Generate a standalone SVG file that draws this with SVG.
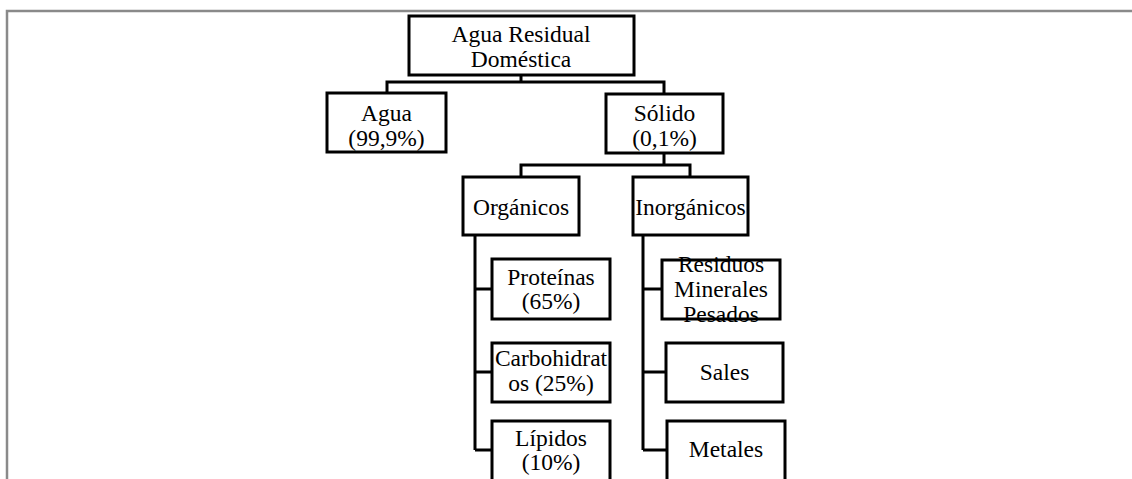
<svg xmlns="http://www.w3.org/2000/svg" width="1132" height="479" viewBox="0 0 1132 479">
<style>
.frame{fill:none;stroke:#8a8a8a;stroke-width:2.5}
.box{fill:#fff;stroke:#000;stroke-width:3}
.con{fill:none;stroke:#000;stroke-width:3}
.t{font-family:'Liberation Serif','Tinos','Times New Roman','DejaVu Serif',serif;font-size:23.5px;fill:#000;text-anchor:middle}
</style>
<rect width="1132" height="479" fill="#fff"/>
<path class="frame" d="M7,479 V11 H1132"/>
<g id="connectors">
<path class="con" d="M521,75 V82 M387,93 V82 H664 V93"/>
<path class="con" d="M664,153 V165 M521,177 V165 H690 V177"/>
<path class="con" d="M475,235 V450 M475,289 H492 M475,372 H492 M475,450 H492"/>
<path class="con" d="M643,235 V450 M643,289 H662 M643,372 H666 M643,450 H667"/>
</g>
<g id="root"><rect class="box" x="409" y="16" width="225" height="59"/><text class="t" x="521" y="42">Agua Residual</text><text class="t" x="521" y="67">Doméstica</text></g>
<g id="agua"><rect class="box" x="327" y="93" width="119" height="59"/><text class="t" x="386.5" y="121">Agua</text><text class="t" x="386.5" y="146">(99,9%)</text></g>
<g id="solido"><rect class="box" x="606" y="94" width="117" height="59"/><text class="t" x="664.5" y="121">Sólido</text><text class="t" x="664.5" y="146">(0,1%)</text></g>
<g id="organicos"><rect class="box" x="463" y="177" width="116" height="58"/><text class="t" x="521" y="215">Orgánicos</text></g>
<g id="inorganicos"><rect class="box" x="633" y="177" width="115" height="58"/><text class="t" x="690.5" y="215">Inorgánicos</text></g>
<g id="proteinas"><rect class="box" x="492" y="259" width="118" height="60"/><text class="t" x="551" y="285">Proteínas</text><text class="t" x="551" y="309">(65%)</text></g>
<g id="carbohidratos"><rect class="box" x="492" y="343" width="118" height="59"/><text class="t" x="551" y="366">Carbohidrat</text><text class="t" x="551" y="391">os (25%)</text></g>
<g id="lipidos"><rect class="box" x="492" y="421" width="118" height="62"/><text class="t" x="551" y="446">Lípidos</text><text class="t" x="551" y="470">(10%)</text></g>
<g id="residuos"><rect class="box" x="662" y="260" width="118" height="59"/><text class="t" x="721" y="272">Residuos</text><text class="t" x="721" y="297">Minerales</text><text class="t" x="721" y="322">Pesados</text></g>
<g id="sales"><rect class="box" x="666" y="343" width="117" height="59"/><text class="t" x="724.5" y="380">Sales</text></g>
<g id="metales"><rect class="box" x="667" y="421" width="118" height="62"/><text class="t" x="726" y="457">Metales</text></g>
</svg>
